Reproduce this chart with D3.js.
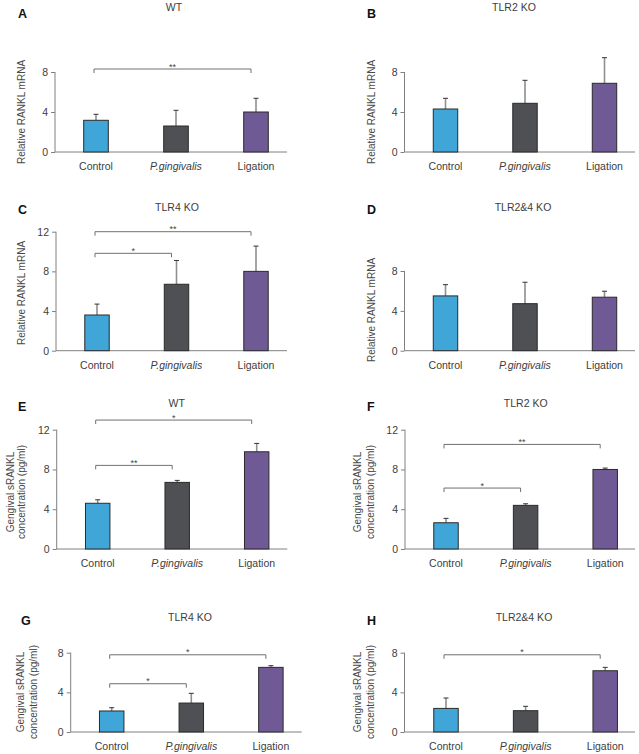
<!DOCTYPE html>
<html>
<head>
<meta charset="utf-8">
<script src="https://cdn.jsdelivr.net/npm/d3@7"></script>
<style>
  html, body { margin: 0; padding: 0; background: #ffffff; }
  svg { display: block; }
  text { font-family: "Liberation Sans", Arial, sans-serif; }
</style>
</head>
<body>
<svg id="chart" width="639" height="754"></svg>
<script>
// ---------------- DATA ----------------
const categories = ["Control", "P.gingivalis", "Ligation"];
const panelLetters = ["A", "B", "C", "D", "E", "F", "G", "H"];
const panelTitles = ["WT", "TLR2 KO", "TLR4 KO", "TLR2&4 KO", "WT", "TLR2 KO", "TLR4 KO", "TLR2&4 KO"];
const mrnaLabel = ["Relative RANKL mRNA"];
const srankLabel = ["Gengival sRANKL", "concentration (pg/ml)"];
const ticks8 = [0, 4, 8];
const ticks12 = [0, 4, 8, 12];

const meanA = [3.17, 2.6, 4.0],   errA = [0.6, 1.57, 1.37];
const meanB = [4.3, 4.87, 6.87],  errB = [1.07, 2.3, 2.56];
const meanC = [3.6, 6.7, 8.0],    errC = [1.1, 2.4, 2.55];
const meanD = [5.5, 4.72, 5.37],  errD = [1.13, 2.15, 0.6];
const meanE = [4.6, 6.7, 9.78],   errE = [0.35, 0.2, 0.84];
const meanF = [2.64, 4.39, 8.0],  errF = [0.44, 0.16, 0.14];
const meanG = [2.12, 2.92, 6.52], errG = [0.33, 0.98, 0.17];
const meanH = [2.38, 2.15, 6.18], errH = [1.05, 0.44, 0.34];

// significance brackets: [from category index, to category index, level (y value), label]
const sigA = [[0, 2, 8.3, "**"]];
const sigB = [];
const sigC = [[0, 2, 12.0, "**"], [0, 1, 9.82, "*"]];
const sigD = [];
const sigE = [[0, 2, 12.97, "*"], [0, 1, 8.41, "**"]];
const sigF = [[0, 2, 10.52, "**"], [0, 1, 6.13, "*"]];
const sigG = [[0, 2, 7.79, "*"], [0, 1, 4.87, "*"]];
const sigH = [[0, 2, 7.79, "*"]];

const colors = ["#40a6d8", "#4f5054", "#6f5a96"];

// ---------------- LAYOUT ----------------
const layout = [
  { mean: meanA, err: errA, sig: sigA, ticks: ticks8,  max: 8,  ax: 55,    axEnd: 287,   y0: 152,   yTop: 72,    c0: 96,    step: 80,   lab: mrnaLabel,  labX: [21.5],        labY: 112,   lx: 18,  ly: 18,    tx: 174,   ty: 10.5 },
  { mean: meanB, err: errB, sig: sigB, ticks: ticks8,  max: 8,  ax: 404.5, axEnd: 635,   y0: 152,   yTop: 72,    c0: 445.5, step: 79.5, lab: mrnaLabel,  labX: [371],         labY: 112,   lx: 367, ly: 18,    tx: 514,   ty: 10.5 },
  { mean: meanC, err: errC, sig: sigC, ticks: ticks12, max: 12, ax: 56,    axEnd: 287,   y0: 350.7, yTop: 231.7, c0: 97,    step: 79.5, lab: mrnaLabel,  labX: [21.5],        labY: 293,   lx: 18,  ly: 213.5, tx: 177,   ty: 210.5 },
  { mean: meanD, err: errD, sig: sigD, ticks: ticks8,  max: 8,  ax: 404.5, axEnd: 635,   y0: 350.7, yTop: 271,   c0: 445.5, step: 79.5, lab: mrnaLabel,  labX: [371],         labY: 310,   lx: 367, ly: 213.5, tx: 523,   ty: 210.5 },
  { mean: meanE, err: errE, sig: sigE, ticks: ticks12, max: 12, ax: 56.7,  axEnd: 287.3, y0: 549,   yTop: 429.7, c0: 97.7,  step: 79.5, lab: srankLabel, labX: [10.5, 21.5],  labY: 492,   lx: 18,  ly: 411,   tx: 176.7, ty: 406.5 },
  { mean: meanF, err: errF, sig: sigF, ticks: ticks12, max: 12, ax: 405,   axEnd: 635,   y0: 549,   yTop: 429.7, c0: 446,   step: 79.6, lab: srankLabel, labX: [357, 370.5], labY: 492,   lx: 367, ly: 411,   tx: 525.7, ty: 406.5 },
  { mean: meanG, err: errG, sig: sigG, ticks: ticks8,  max: 8,  ax: 70.7,  axEnd: 301.7, y0: 732,   yTop: 652.7, c0: 111.7, step: 79.6, lab: srankLabel, labX: [20, 33.5],   labY: 692,   lx: 21,  ly: 624.5, tx: 190,   ty: 620.5 },
  { mean: meanH, err: errH, sig: sigH, ticks: ticks8,  max: 8,  ax: 404.5, axEnd: 635,   y0: 732,   yTop: 652.7, c0: 446,   step: 79.6, lab: srankLabel, labX: [357, 370.5], labY: 692,   lx: 367, ly: 624.5, tx: 524,   ty: 620.5 }
];

const svg = d3.select("#chart");
const axisColor = "#808080";
const textColor = "#3d3d3d";

layout.forEach((p, i) => {
  const g = svg.append("g");
  const y = d3.scaleLinear().domain([0, p.max]).range([p.y0, p.yTop]);
  const x = d3.scaleBand()
    .domain(categories)
    .range([p.c0 - p.step / 2, p.c0 + p.step * 2.5])
    .paddingInner(0.68)
    .paddingOuter(0.34);

  // panel letter & title
  g.append("text").attr("x", p.lx).attr("y", p.ly)
    .attr("font-size", 12.5).attr("font-weight", "bold").attr("fill", "#111")
    .text(panelLetters[i]);
  g.append("text").attr("x", p.tx).attr("y", p.ty)
    .attr("text-anchor", "middle").attr("font-size", 10.5).attr("fill", textColor)
    .text(panelTitles[i]);

  // y axis
  const yAxis = g.append("g").attr("transform", `translate(${p.ax},0)`)
    .call(d3.axisLeft(y).tickValues(p.ticks).tickSize(4).tickPadding(3).tickFormat(d3.format("d")));
  yAxis.select(".domain").attr("stroke", axisColor).attr("d", `M0,${p.y0}V${p.yTop}`);
  yAxis.selectAll(".tick line").attr("stroke", axisColor);
  yAxis.selectAll(".tick text").attr("font-size", 10.5).attr("fill", textColor)
    .attr("font-family", "'Liberation Sans', Arial, sans-serif");

  // x axis baseline
  g.append("line").attr("x1", p.ax).attr("x2", p.axEnd)
    .attr("y1", p.y0).attr("y2", p.y0).attr("stroke", axisColor).attr("stroke-width", 1);

  // category labels
  g.selectAll("text.cat").data(categories).enter().append("text")
    .attr("class", "cat")
    .attr("x", d => x(d) + x.bandwidth() / 2)
    .attr("y", p.y0 + 18)
    .attr("text-anchor", "middle")
    .attr("font-size", 10.5)
    .attr("fill", textColor)
    .attr("font-style", d => d === "P.gingivalis" ? "italic" : "normal")
    .text(d => d);

  // y-axis label
  p.lab.forEach((t, k) => {
    g.append("text")
      .attr("transform", `translate(${p.labX[k]},${p.labY}) rotate(-90)`)
      .attr("text-anchor", "middle").attr("dominant-baseline", "central")
      .attr("font-size", 10).attr("fill", "#474747")
      .text(t);
  });

  const rows = categories.map((c, k) => ({ c, m: p.mean[k], e: p.err[k], k }));

  // error bars (stem + cap)
  g.selectAll("line.stem").data(rows).enter().append("line")
    .attr("x1", d => x(d.c) + x.bandwidth() / 2)
    .attr("x2", d => x(d.c) + x.bandwidth() / 2)
    .attr("y1", d => y(d.m)).attr("y2", d => y(d.m + d.e))
    .attr("stroke", "#8f8f8f").attr("stroke-width", 1.6);
  g.selectAll("line.cap").data(rows).enter().append("line")
    .attr("x1", d => x(d.c) + x.bandwidth() / 2 - 2.5)
    .attr("x2", d => x(d.c) + x.bandwidth() / 2 + 2.5)
    .attr("y1", d => y(d.m + d.e)).attr("y2", d => y(d.m + d.e))
    .attr("stroke", "#333").attr("stroke-width", 1);

  // bars
  g.selectAll("rect.bar").data(rows).enter().append("rect")
    .attr("x", d => x(d.c) + 0.5)
    .attr("y", d => y(d.m))
    .attr("width", x.bandwidth() - 1)
    .attr("height", d => y(0) - y(d.m))
    .attr("fill", d => colors[d.k])
    .attr("stroke", "#2a2a2a").attr("stroke-width", 1);

  // significance brackets
  p.sig.forEach(s => {
    const xa = x(categories[s[0]]) + x.bandwidth() / 2 - 2;
    const xb = x(categories[s[1]]) + x.bandwidth() / 2 - 5;
    const yy = y(s[2]);
    g.append("path")
      .attr("d", `M${xa},${yy + 4}V${yy}H${xb}V${yy + 4}`)
      .attr("fill", "none").attr("stroke", "#707070").attr("stroke-width", 1);
    g.append("text").attr("x", (xa + xb) / 2).attr("y", yy + 0.5)
      .attr("text-anchor", "middle").attr("font-size", 9).attr("fill", "#444")
      .text(s[3]);
  });
});
</script>
</body>
</html>
